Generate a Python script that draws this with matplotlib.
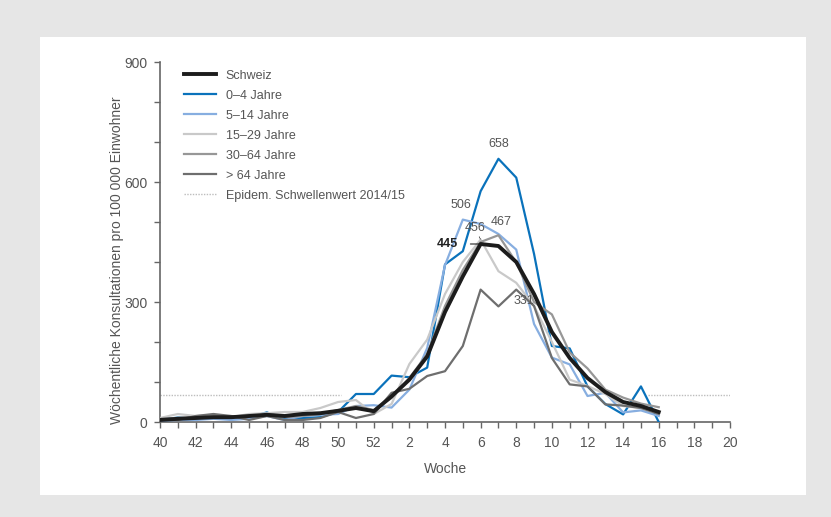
import matplotlib.pyplot as plt
from matplotlib.patches import Rectangle

plt.rcParams['font.family'] = ['Liberation Sans', 'DejaVu Sans']

# weeks 40..52 (2014), 1..16 (2015)
weeks = list(range(40, 53)) + list(range(1, 17))
x = list(range(len(weeks)))

schweiz = [5, 8, 10, 12, 12, 15, 18, 15, 20, 22, 28, 35, 27, 64, 106, 164, 275, 364, 445,
           440, 400, 320, 225, 160, 110, 75, 50, 40, 25]
age_0_4 = [6, 11, 8, 10, 12, 12, 24, 8, 10, 12, 25, 70, 70, 116, 112, 136, 394, 427, 577,
           658, 611, 420, 190, 184, 89, 45, 19, 89, 0]
age_5_14 = [3, 5, 5, 8, 5, 8, 15, 5, 15, 18, 20, 40, 42, 36, 81, 185, 392, 506, 495,
            470, 431, 245, 161, 144, 65, 73, 24, 29, 15]
age_15_29 = [10, 20, 15, 18, 12, 20, 22, 25, 25, 35, 50, 55, 20, 45, 145, 206, 320, 400, 456,
             377, 348, 290, 200, 106, 90, 70, 40, 35, 25]
age_30_64 = [8, 10, 12, 15, 12, 15, 18, 12, 15, 20, 30, 40, 30, 60, 110, 170, 290, 380, 450,
             467, 399, 300, 269, 174, 134, 81, 61, 46, 37]
age_64 = [5, 5, 15, 20, 15, 5, 15, 5, 5, 10, 25, 10, 20, 73, 83, 115, 127, 190, 331,
          289, 331, 290, 160, 94, 89, 44, 41, 35, 20]
threshold = 67

tick_weeks = list(range(40, 53)) + list(range(1, 21))
tick_labels = [str(w) if i % 2 == 0 else "" for i, w in enumerate(tick_weeks)]

fig = plt.figure(figsize=(8.31, 5.17), dpi=100)
fig.patch.set_facecolor("#e6e6e6")
panel = Rectangle((40 / 831, 22 / 517), 766 / 831, 458 / 517,
                  transform=fig.transFigure, facecolor="white",
                  edgecolor="none", zorder=-10)
fig.add_artist(panel)

ax = fig.add_axes([160 / 831, 1 - 422 / 517, 570 / 831, 360 / 517])
ax.set_facecolor("none")

txt = "#555555"
ax.hlines(threshold, 0, 10.15, colors="#bdbdbd", linestyles=(0, (1, 1)), linewidth=1)
ax.hlines(threshold, 27.4, 32, colors="#bdbdbd", linestyles=(0, (1, 1)), linewidth=1)

ax.plot(x, age_0_4, color="#0a72bb", linewidth=1.6, label="0–4 Jahre", zorder=3)
ax.plot(x, age_5_14, color="#87aee0", linewidth=1.6, label="5–14 Jahre", zorder=3)
ax.plot(x, age_15_29, color="#c9c9c9", linewidth=1.6, label="15–29 Jahre", zorder=3)
ax.plot(x, age_30_64, color="#979797", linewidth=1.6, label="30–64 Jahre", zorder=3)
ax.plot(x, age_64, color="#6e6e6e", linewidth=1.6, label="> 64 Jahre", zorder=3)
ax.plot(x, schweiz, color="#1c1c1c", linewidth=2.8, label="Schweiz", zorder=4)
ax.plot([], [], color="#bdbdbd", linestyle=(0, (1, 1)), linewidth=1,
        label="Epidem. Schwellenwert 2014/15")

# peak labels
fs = 9
ax.annotate(str(age_0_4[19]), (19, age_0_4[19]), xytext=(0, 6), textcoords="offset points",
            ha="center", va="bottom", fontsize=fs, color=txt)
ax.annotate(str(age_5_14[17]), (17, age_5_14[17]), xytext=(-1, 6), textcoords="offset points",
            ha="center", va="bottom", fontsize=fs, color=txt)
ax.annotate(str(age_30_64[19]), (19, age_30_64[19]), xytext=(2, 5), textcoords="offset points",
            ha="center", va="bottom", fontsize=fs, color=txt)
ax.annotate(str(age_15_29[18]), (18, age_15_29[18]), xytext=(-4, 4), textcoords="offset points",
            ha="center", va="bottom", fontsize=fs, color=txt,
            arrowprops=dict(arrowstyle="-", color="#333333", lw=0.6, linestyle=(0, (1, 1)),
                            shrinkA=0, shrinkB=0))
ax.annotate(str(schweiz[18]), (18, schweiz[18]), xytext=(-24, 0), textcoords="offset points",
            ha="center", va="center", fontsize=fs, color="#222222", fontweight="bold",
            arrowprops=dict(arrowstyle="-", color="#222222", lw=0.8,
                            shrinkA=7, shrinkB=0))
ax.annotate(str(age_64[20]), (20, age_64[20]), xytext=(-2, -4), textcoords="offset points",
            ha="left", va="top", fontsize=fs, color=txt)

ax.set_xlim(0, len(tick_weeks) - 1)
ax.set_ylim(0, 900)
ax.set_xticks(range(len(tick_weeks)))
ax.set_xticklabels(tick_labels)
ax.set_yticks(range(0, 901, 100))
ax.set_yticklabels([str(v) if v % 300 == 0 else "" for v in range(0, 901, 100)])

for s in ["top", "right"]:
    ax.spines[s].set_visible(False)
for s in ["left", "bottom"]:
    ax.spines[s].set_color("#666666")
    ax.spines[s].set_linewidth(1.2)
ax.tick_params(colors="#666666", labelcolor=txt, labelsize=10, length=4, width=1)
ax.tick_params(axis="x", pad=6)
ax.tick_params(axis="y", pad=5)

ax.set_xlabel("Woche", fontsize=10, color=txt, labelpad=9)
ax.set_ylabel("Wöchentliche Konsultationen pro 100 000 Einwohner", fontsize=10,
              color=txt)
ax.yaxis.set_label_coords(-0.063, 0.45)

handles, labels = ax.get_legend_handles_labels()
order = [5, 0, 1, 2, 3, 4, 6]
leg = ax.legend([handles[i] for i in order], [labels[i] for i in order],
                loc="upper left", bbox_to_anchor=(0.022, 1.01), frameon=False,
                fontsize=9, handlelength=2.6, handletextpad=0.75, labelspacing=0.64,
                labelcolor=txt)

fig.savefig("out.png", dpi=100)
